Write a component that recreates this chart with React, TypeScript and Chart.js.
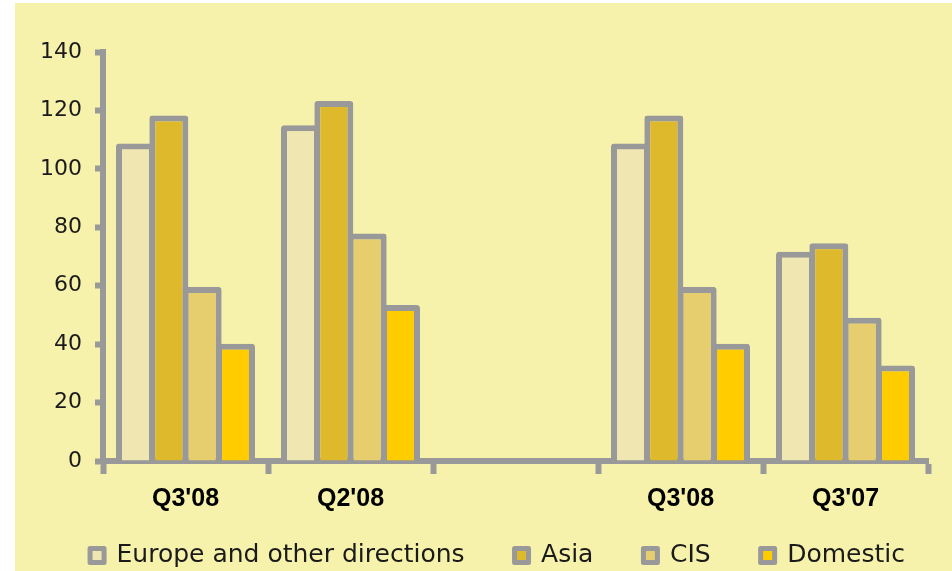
import { useEffect, useRef } from "react";
import { Chart, registerables } from "chart.js";

Chart.register(...registerables);

// Export volumes by direction, per quarter (third slot left empty as a spacer)
const categories = ["Q3'08", "Q2'08", "", "Q3'08", "Q3'07"];
const europe = [108.7, 114.9, null, 108.7, 71.6];
const asia = [118.3, 123.2, null, 118.3, 74.5];
const cis = [59.6, 77.9, null, 59.6, 49.0];
const domestic = [40.1, 53.4, null, 40.1, 32.7];

const seriesNames = ["Europe and other directions", "Asia", "CIS", "Domestic"];

const yMin = 0;
const yMax = 140;
const yStep = 20;

const PANEL = "#F7F2AB";
const GREY = "#999999";
const FILLS = ["#F0E6B2", "#DDB92B", "#E6CE6E", "#FFCC00"];

// Moves the legend row up so it sits closer to the category labels
const legendLift = {
  id: "legendLift",
  afterLayout(chart: any) {
    const lg = chart.legend;
    if (!lg) return;
    const dy = 20;
    lg.top -= dy;
    lg.bottom -= dy;
  },
};

export default function App() {
  const canvasRef = useRef<HTMLCanvasElement | null>(null);

  useEffect(() => {
    const canvas = canvasRef.current;
    if (!canvas) return;

    const values = [europe, asia, cis, domestic];
    const datasets = seriesNames.map((name, i) => ({
      label: name,
      data: values[i],
      backgroundColor: FILLS[i],
      borderColor: GREY,
      borderWidth: 6,
      borderSkipped: "start" as const,
      borderRadius: 3,
      categoryPercentage: 0.808,
      barPercentage: 1.17,
    }));

    const chart = new Chart(canvas, {
      type: "bar",
      data: { labels: categories, datasets },
      plugins: [legendLift],
      options: {
        responsive: false,
        animation: false,
        events: [],
        layout: { padding: { left: 12, right: 16, top: 49, bottom: -27 } },
        plugins: {
          tooltip: { enabled: false },
          legend: {
            position: "bottom",
            labels: {
              boxWidth: 14,
              boxHeight: 14,
              padding: 50,
              color: "#1a1a1a",
              font: { family: "'DejaVu Sans', sans-serif", size: 25 },
              generateLabels: (c: Chart) =>
                Chart.defaults.plugins.legend.labels
                  .generateLabels(c)
                  .map((item: any) => ({
                    ...item,
                    lineWidth: 5,
                    lineJoin: "round",
                    strokeStyle: GREY,
                  })),
            },
          },
        },
        scales: {
          x: {
            z: 1,
            grid: {
              display: true,
              offset: true,
              drawOnChartArea: false,
              drawTicks: true,
              tickLength: 13,
              tickColor: GREY,
              tickWidth: 6,
            },
            border: { display: true, color: GREY, width: 6 },
            ticks: {
              autoSkip: false,
              maxRotation: 0,
              padding: 13,
              color: "#000",
              font: {
                family: "'Liberation Sans', Arial, sans-serif",
                size: 25,
                weight: "bold",
                lineHeight: 1,
              },
            },
            afterFit: (s: any) => {
              s.height = 52;
            },
          },
          y: {
            min: yMin,
            max: yMax,
            grid: {
              display: true,
              drawOnChartArea: false,
              drawTicks: true,
              tickLength: 8,
              tickColor: GREY,
              tickWidth: 6,
            },
            border: { display: true, color: GREY, width: 6 },
            ticks: {
              stepSize: yStep,
              padding: 13,
              color: "#1a1a1a",
              font: { family: "'DejaVu Sans', sans-serif", size: 22 },
            },
            afterFit: (s: any) => {
              s.width = 76;
            },
          },
          // empty right-hand gutter, widens the legend row
          gutter: {
            type: "linear",
            position: "right",
            display: true,
            grid: { display: false },
            ticks: { display: false },
            border: { display: false },
            afterFit: (s: any) => {
              s.width = 40;
            },
          },
        },
      },
    } as any);

    return () => chart.destroy();
  }, []);

  return (
    <div
      style={{
        position: "absolute",
        left: 0,
        top: 0,
        width: 952,
        height: 571,
        background: "#ffffff",
        overflow: "hidden",
      }}
    >
      <div
        style={{
          position: "absolute",
          left: 15,
          top: 3,
          width: 937,
          height: 568,
          background: PANEL,
          overflow: "hidden",
        }}
      >
        <canvas
          ref={canvasRef}
          width={969}
          height={568}
          style={{ display: "block", width: 969, height: 568 }}
        />
      </div>
    </div>
  );
}
